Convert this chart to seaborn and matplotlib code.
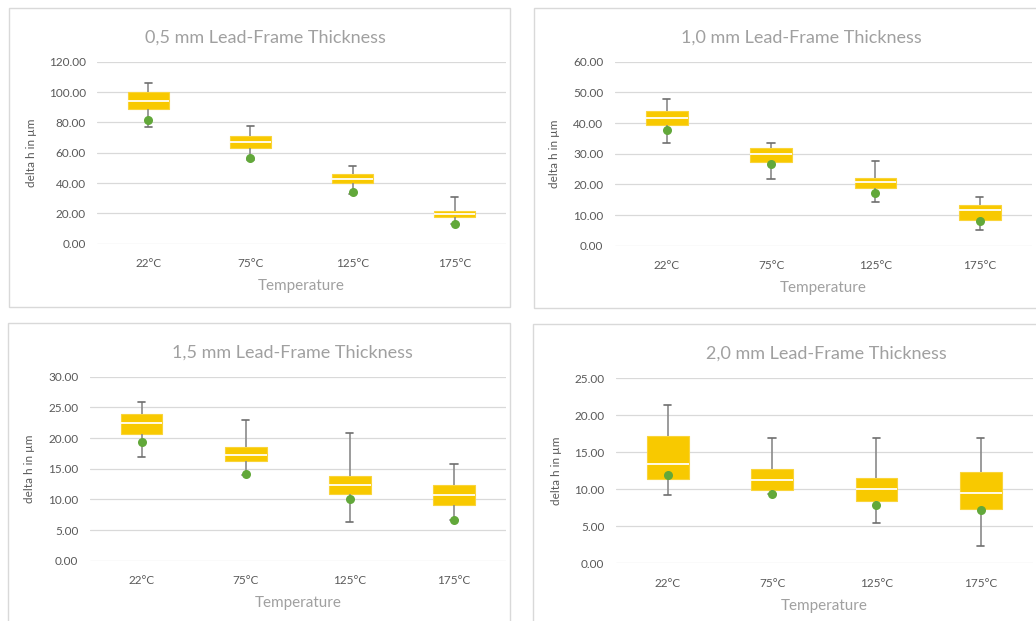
import matplotlib
matplotlib.use("Agg")
import matplotlib.pyplot as plt
from matplotlib.patches import Rectangle
import numpy as np
import pandas as pd
import seaborn as sns

# ---- data -------------------------------------------------------------
temps = ["22°C", "75°C", "125°C", "175°C"]

titles = ["0,5 mm Lead-Frame Thickness", "1,0 mm Lead-Frame Thickness",
          "1,5 mm Lead-Frame Thickness", "2,0 mm Lead-Frame Thickness"]

# five-number summaries per temperature (min, Q1, median, Q3, max)
lo_05 = [77.1, 55.5, 32.7, 13.0]
q1_05 = [88.5, 62.9, 39.8, 17.4]
md_05 = [94.3, 67.3, 42.6, 19.3]
q3_05 = [100.0, 71.0, 45.9, 21.5]
hi_05 = [105.7, 77.8, 51.2, 31.0]
sim_05 = [81.5, 56.7, 34.1, 13.2]

lo_10 = [33.4, 21.8, 14.2, 5.2]
q1_10 = [39.2, 27.4, 18.9, 8.3]
md_10 = [41.5, 29.9, 20.9, 11.6]
q3_10 = [43.9, 32.0, 22.2, 13.4]
hi_10 = [47.7, 33.6, 27.6, 16.0]
sim_10 = [37.7, 26.5, 17.1, 8.0]

lo_15 = [16.9, 14.0, 6.3, 6.6]
q1_15 = [20.7, 16.3, 10.9, 9.1]
md_15 = [22.5, 17.2, 12.3, 10.7]
q3_15 = [23.9, 18.5, 13.8, 12.3]
hi_15 = [25.9, 22.9, 20.9, 15.8]
sim_15 = [19.3, 14.1, 10.1, 6.6]

lo_20 = [9.2, 9.3, 5.5, 2.4]
q1_20 = [11.4, 9.9, 8.4, 7.4]
md_20 = [13.4, 11.3, 10.0, 9.5]
q3_20 = [17.2, 12.7, 11.5, 12.3]
hi_20 = [21.4, 17.0, 17.0, 16.9]
sim_20 = [12.0, 9.3, 7.9, 7.2]

y_max = [120, 60, 30, 25]
y_step = [20, 10, 5, 5]

panels = [
    (lo_05, q1_05, md_05, q3_05, hi_05, sim_05),
    (lo_10, q1_10, md_10, q3_10, hi_10, sim_10),
    (lo_15, q1_15, md_15, q3_15, hi_15, sim_15),
    (lo_20, q1_20, md_20, q3_20, hi_20, sim_20),
]

# ---- style --------------------------------------------------------------
sns.set_theme(style="white")
plt.rcParams["font.family"] = ["Lato", "DejaVu Sans"]

GOLD = "#F8C900"
GREEN = "#62A83A"
WHISK = "#8A8A8A"
CAP = "#6E6E6E"
GRID = "#D9D9D9"
TXT = "#595959"
LIGHT = "#A0A0A0"

W, H = 1036, 621
fig = plt.figure(figsize=(W / 100, H / 100), dpi=100)
fig.patch.set_facecolor("white")

# layout in pixels: chart frame (x0, y0, x1, y1), plot area (left, top, right, bottom),
# title centre x, y-label offset
layout = [
    dict(frame=(9, 8, 510, 307), area=(97, 61.7, 506, 243.7), tx=265, ylo=60),
    dict(frame=(534, 8, 1040, 308), area=(614.5, 61.7, 1032, 245.7), tx=801, ylo=55),
    dict(frame=(8, 323, 510, 630), area=(89.6, 376.7, 506, 560.7), tx=292, ylo=55),
    dict(frame=(533, 324, 1040, 630), area=(615.5, 378.3, 1033, 563.3), tx=826, ylo=53),
]


def px_rect(x0, y0, x1, y1):
    return [x0 / W, 1 - y1 / H, (x1 - x0) / W, (y1 - y0) / H]


for i, (lo, q1, md, q3, hi, sim) in enumerate(panels):
    L = layout[i]
    fx0, fy0, fx1, fy1 = L["frame"]
    fig.patches.append(Rectangle((fx0 / W, 1 - fy1 / H), (fx1 - fx0) / W, (fy1 - fy0) / H,
                                 transform=fig.transFigure, facecolor="white",
                                 edgecolor=GRID, lw=1.0, zorder=-10))
    ax = fig.add_axes(px_rect(*L["area"]))
    ax.set_facecolor("none")
    ax.set_zorder(1)

    long = pd.DataFrame({
        "Temperature": np.repeat(temps, 5),
        "value": np.column_stack([lo, q1, md, q3, hi]).ravel(),
    })
    sns.boxplot(data=long, x="Temperature", y="value", order=temps, ax=ax,
                whis=(0, 100), width=0.4, color=GOLD, saturation=1,
                showfliers=False,
                boxprops=dict(facecolor=GOLD, edgecolor="#F9D43A", linewidth=0.8),
                medianprops=dict(color="white", linewidth=1.4, alpha=0.9),
                whiskerprops=dict(color=WHISK, linewidth=1.2),
                capprops=dict(color=CAP, linewidth=1.2))

    # narrow whisker caps
    for ln in ax.lines:
        yd = np.asarray(ln.get_ydata(), dtype=float)
        xd = np.asarray(ln.get_xdata(), dtype=float)
        if (len(yd) == 2 and yd[0] == yd[1]
                and matplotlib.colors.same_color(ln.get_color(), CAP)):
            c = xd.mean()
            ln.set_xdata([c - 0.035, c + 0.035])

    sim_df = pd.DataFrame({"Temperature": temps, "value": sim})
    sns.stripplot(data=sim_df, x="Temperature", y="value", order=temps, ax=ax,
                  jitter=False, color=GREEN, size=6.5, linewidth=0, zorder=5)

    ax.set_xlim(-0.5, 3.5)
    ax.set_ylim(0, y_max[i])
    ax.set_yticks(np.arange(0, y_max[i] + 0.01, y_step[i]))
    ax.yaxis.set_major_formatter(matplotlib.ticker.FormatStrFormatter("%.2f"))
    ax.grid(axis="y", color=GRID, linewidth=0.9)
    ax.set_axisbelow(True)
    for s in ax.spines.values():
        s.set_visible(False)
    ax.tick_params(axis="both", length=0, labelsize=8.5, labelcolor=TXT)
    ax.tick_params(axis="y", pad=8)
    ax.tick_params(axis="x", pad=10.5)

    ax.set_xlabel("Temperature", fontsize=11, color=LIGHT, labelpad=7)
    ax.set_ylabel("delta h in µm", fontsize=8.5, color=TXT)
    aw = L["area"][2] - L["area"][0]
    ax.yaxis.set_label_coords(-L["ylo"] / aw, 0.5)

    fig.text(L["tx"] / W, 1 - (fy0 + 30) / H, titles[i], ha="center", va="center",
             fontsize=13, color=LIGHT)

fig.savefig("out.png", dpi=100, facecolor="white")
